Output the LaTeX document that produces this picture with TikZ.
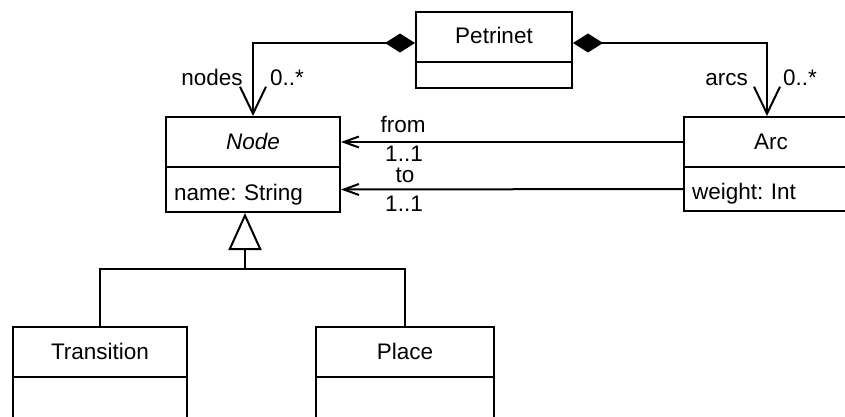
\documentclass[tikz,border=0pt]{standalone}
\usepackage{fontspec}
\setmainfont{Liberation Sans}
\usetikzlibrary{arrows.meta}
\frenchspacing
\begin{document}
\begin{tikzpicture}[x=1pt,y=-1pt,
  every node/.style={font=\fontsize{22.5}{27}\selectfont},
  ln/.style={line width=2pt},
  ctitle/.style={ln,draw,fill=white,anchor=north west,inner sep=0pt,minimum width=174pt,minimum height=50pt,text height=14pt,text depth=0pt},
  cattr/.style={ln,draw,fill=white,anchor=north west,inner xsep=8pt,inner ysep=0pt,minimum width=174pt,text width=158pt,align=left,text height=21pt,text depth=0pt},
  lbl/.style={inner sep=0pt,anchor=base},
  comp/.style={ln,{Diamond[length=30pt,width=19pt]}-{Straight Barb[length=27pt,width=26pt,line width=2pt]}},
  assoc/.style={ln,-{Straight Barb[length=15pt,width=11pt,line width=2pt]}},
  gen/.style={ln,-{Triangle[fill=white,length=37pt,width=33pt,line width=2pt]}}
]
\clip (0,0) rectangle (845,417);
\fill[white] (0,0) rectangle (845,417);
% classes
\node[ctitle,minimum width=156pt] (pnt) at (415,11) {Petrinet};
\node[cattr,minimum width=156pt,text width=140pt,minimum height=26pt] (pna) at (415,61) {};
\node[ctitle] (ndt) at (165,116) {\itshape Node};
\node[cattr,minimum height=45pt] (nda) at (165,166) {name: String};
\node[ctitle] (arct) at (683,116) {Arc};
\node[cattr,minimum height=44pt] (arca) at (683,166) {weight: Int};
\node[ctitle] (trt) at (12,326) {Transition};
\node[cattr,minimum height=60pt] (tra) at (12,376) {};
\node[ctitle,minimum width=178pt] (plt) at (315,326) {Place};
\node[cattr,minimum width=178pt,minimum height=60pt] (pla) at (315,376) {};
% compositions
\draw[comp] ([yshift=-6pt]pnt.west) -| (ndt.north);
\draw[comp] ([yshift=-6pt]pnt.east) -| ([xshift=-4pt]arct.north);
\node[lbl] (lnodes) at (212,86) {nodes};
\node[lbl,anchor=base west] (lnm) at (270,86) {0..*};
\node[lbl,anchor=base east] (larcs) at (748,86) {arcs};
\node[lbl,anchor=base west] (lam) at (783,86) {0..*};
% associations
\draw[assoc] (arct.west) -- (ndt.east);
\draw[assoc] (arca.west) -- (nda.east);
\node[lbl] (lfrom) at (403,132) {from};
\node[lbl] (lfm) at (404,161) {1..1};
\node[lbl] (lto) at (405,182) {to};
\node[lbl] (ltm) at (404,211) {1..1};
% generalization
\coordinate (gj) at (245,269);
\draw[gen] (gj) -- (gj |- nda.south);
\draw[ln] (trt.north) |- (gj) -| (plt.north);
\end{tikzpicture}
\end{document}
